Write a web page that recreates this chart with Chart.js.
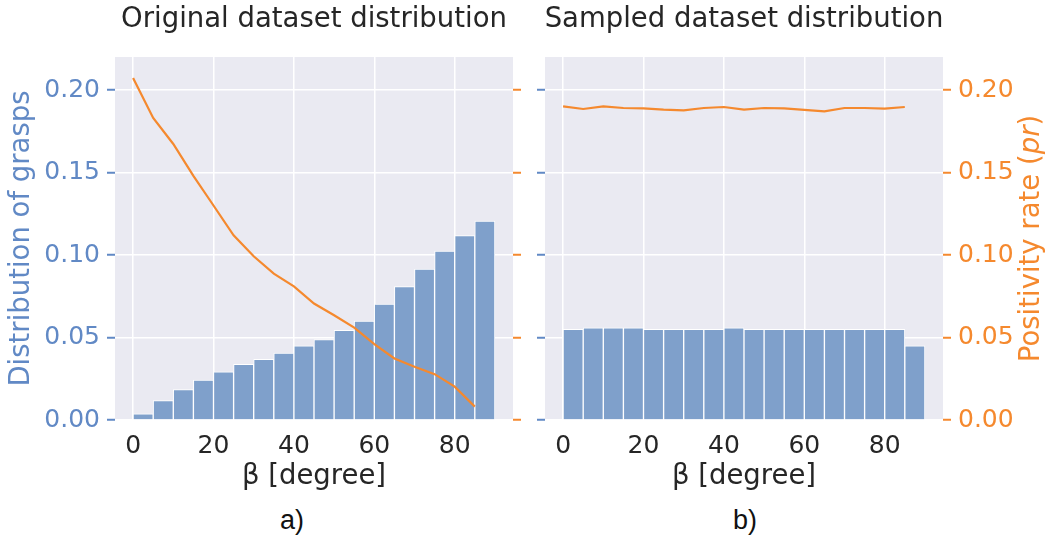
<!DOCTYPE html>
<html lang="en">
<head>
    <meta charset="UTF-8">
    <title>Original vs sampled dataset distribution</title>
    <script src="https://cdn.jsdelivr.net/npm/chart.js"></script>
    <style>
        body { margin: 0; background: #fff; width: 1049px; height: 547px; position: relative; overflow: hidden; }
        canvas { position: absolute; top: 0; }
        .sub { position: absolute; top: 505px; font-family: 'Liberation Sans', sans-serif; font-size: 27px; color: #111; transform: translateX(-50%); }
    </style>
</head>
<body>
    <canvas id="origChart" width="530" height="500" style="left:0"></canvas>
    <canvas id="sampledChart" width="519" height="500" style="left:530px"></canvas>
    <div class="sub" style="left:292px">a)</div>
    <div class="sub" style="left:745px">b)</div>

    <script>
        // bin centres of the beta histogram (5 degree bins, 0..90)
        const binCenters = [2.5, 7.5, 12.5, 17.5, 22.5, 27.5, 32.5, 37.5, 42.5, 47.5, 52.5, 57.5, 62.5, 67.5, 72.5, 77.5, 82.5, 87.5];
        // positions of the positivity rate points
        const rateAngles = [0, 5, 10, 15, 20, 25, 30, 35, 40, 45, 50, 55, 60, 65, 70, 75, 80, 85];

        const origDist = [0.0038, 0.0117, 0.0185, 0.0242, 0.0292, 0.0337, 0.0367, 0.0405, 0.0450, 0.0488, 0.0544, 0.0599, 0.0702, 0.0808, 0.0915, 0.1024, 0.1117, 0.1206];
        const origRate = [0.2073, 0.1831, 0.1673, 0.1480, 0.1300, 0.1119, 0.0992, 0.0887, 0.0810, 0.0706, 0.0635, 0.0560, 0.0460, 0.0373, 0.0323, 0.0278, 0.0202, 0.0081];

        const sampledDist = [0.0550, 0.0558, 0.0558, 0.0558, 0.0550, 0.0550, 0.0550, 0.0550, 0.0558, 0.0550, 0.0550, 0.0550, 0.0550, 0.0550, 0.0550, 0.0550, 0.0550, 0.0450];
        const sampledRate = [0.1901, 0.1885, 0.1901, 0.1891, 0.1889, 0.1881, 0.1877, 0.1891, 0.1897, 0.1881, 0.1891, 0.1889, 0.1879, 0.1871, 0.1891, 0.1891, 0.1887, 0.1897];

        const yTicks = ['0.00', '0.05', '0.10', '0.15', '0.20'];

        const BLUE = '#6189C5';
        const BAR = '#7FA0CB';
        const ORANGE = '#F5892E';
        const FONT = 'DejaVu Sans';
        const LABEL_SIZE = 27.5;
        const TICK_SIZE = 25;

        // lavender plot background
        const bgPlugin = {
            id: 'bg',
            beforeDraw(chart) {
                const a = chart.chartArea;
                chart.ctx.save();
                chart.ctx.fillStyle = '#EAEAF2';
                chart.ctx.fillRect(a.left, a.top, a.right - a.left, a.bottom - a.top);
                chart.ctx.restore();
            }
        };

        // panel title centred over the plot area (not the whole canvas)
        const panelTitlePlugin = {
            id: 'panelTitle',
            afterDraw(chart, args, opts) {
                const ctx = chart.ctx;
                const a = chart.chartArea;
                ctx.save();
                ctx.font = LABEL_SIZE + 'px "' + FONT + '"';
                ctx.fillStyle = '#262626';
                ctx.textAlign = 'center';
                ctx.textBaseline = 'alphabetic';
                ctx.fillText(opts.text, (a.left + a.right) / 2, 27);
                ctx.restore();
            }
        };

        // right axis title with italic "pr"
        const rateTitlePlugin = {
            id: 'rateTitle',
            afterDraw(chart) {
                const ctx = chart.ctx;
                const a = chart.chartArea;
                const parts = [['Positivity rate (', 'normal'], ['pr', 'italic'], [')', 'normal']];
                ctx.save();
                let total = 0;
                parts.forEach(p => { ctx.font = p[1] + ' ' + LABEL_SIZE + 'px "' + FONT + '"'; total += ctx.measureText(p[0]).width; });
                ctx.translate(502, (a.top + a.bottom) / 2);
                ctx.rotate(-Math.PI / 2);
                ctx.fillStyle = ORANGE;
                ctx.textBaseline = 'middle';
                let x = -total / 2;
                parts.forEach(p => {
                    ctx.font = p[1] + ' ' + LABEL_SIZE + 'px "' + FONT + '"';
                    ctx.fillText(p[0], x, 0);
                    x += ctx.measureText(p[0]).width;
                });
                ctx.restore();
            }
        };

        function xAxis() {
            return {
                type: 'linear', min: -4.5, max: 94.5, offset: false,
                afterFit: s => { s.height = 80; },
                grid: { color: '#fff', lineWidth: 1.5, drawTicks: false, offset: false },
                border: { display: false },
                ticks: { stepSize: 20, includeBounds: false, padding: 11, color: '#262626', font: { family: FONT, size: TICK_SIZE } },
                title: { display: true, text: 'β [degree]', color: '#262626', font: { family: FONT, size: LABEL_SIZE }, padding: { top: 0, bottom: 7 } }
            };
        }

        function yAxis(pos, width, color, showLabels, onArea) {
            return {
                type: 'linear', position: pos, min: 0, max: 0.22,
                afterFit: s => { s.width = width; },
                grid: { color: '#fff', lineWidth: 1.5, drawOnChartArea: onArea, tickColor: color, tickLength: 8, tickWidth: 2 },
                border: { display: false },
                ticks: {
                    display: showLabels, stepSize: 0.05, includeBounds: false, padding: 7, color: color,
                    font: { family: FONT, size: TICK_SIZE },
                    callback: (v, i) => yTicks[i]
                }
            };
        }

        function makeChart(id, dist, rate, title, leftScale, rightScale, plugins) {
            return new Chart(document.getElementById(id), {
                type: 'bar',
                data: {
                    datasets: [
                        {
                            type: 'line',
                            data: rateAngles.map((x, i) => ({ x: x, y: rate[i] })),
                            yAxisID: 'y2',
                            borderColor: ORANGE,
                            borderWidth: 2.2,
                            pointRadius: 0,
                            tension: 0
                        },
                        {
                            type: 'bar',
                            data: binCenters.map((x, i) => ({ x: x, y: dist[i] })),
                            yAxisID: 'y',
                            backgroundColor: BAR,
                            borderColor: '#ffffff',
                            borderWidth: 1,
                            barPercentage: 1,
                            categoryPercentage: 1
                        }
                    ]
                },
                options: {
                    responsive: false,
                    animation: false,
                    devicePixelRatio: 1,
                    layout: { padding: { top: 57, left: 0, right: 0, bottom: 0 } },
                    plugins: {
                        legend: { display: false },
                        tooltip: { enabled: false },
                        panelTitle: { text: title }
                    },
                    scales: { x: xAxis(), y: leftScale, y2: rightScale }
                },
                plugins: [bgPlugin, panelTitlePlugin].concat(plugins)
            });
        }

        // left panel: labelled blue axis on the left, bare orange ticks on the right
        const leftY = yAxis('left', 115, BLUE, true, true);
        leftY.title = { display: true, text: 'Distribution of grasps', color: BLUE, font: { family: FONT, size: LABEL_SIZE }, padding: { top: 5, bottom: 0 } };
        makeChart('origChart', origDist, origRate, 'Original dataset distribution',
            leftY, yAxis('right', 17, ORANGE, false, false), []);

        // right panel: bare blue ticks on the left, labelled orange axis on the right
        makeChart('sampledChart', sampledDist, sampledRate, 'Sampled dataset distribution',
            yAxis('left', 15, BLUE, false, true), yAxis('right', 106, ORANGE, true, false), [rateTitlePlugin]);
    </script>
</body>
</html>
